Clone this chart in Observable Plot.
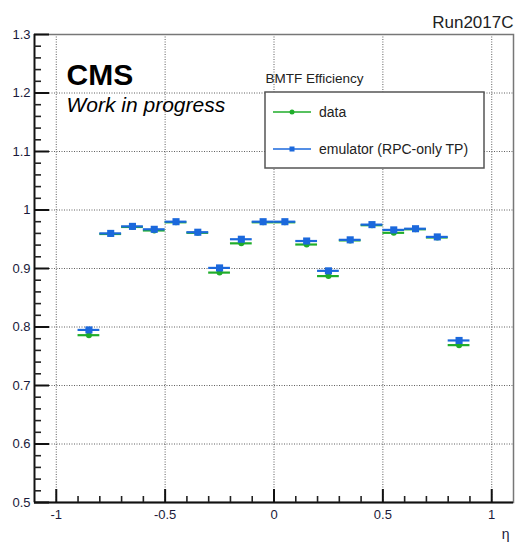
<!DOCTYPE html>
<html>
<head>
<meta charset="utf-8">
<script src="https://cdn.jsdelivr.net/npm/d3@7"></script>
<script src="https://cdn.jsdelivr.net/npm/@observablehq/plot@0.6"></script>
<style>
  html, body { margin: 0; padding: 0; background: #fff; }
  svg { display: block; }
</style>
</head>
<body>
<div id="chart"></div>
<script>
// ---- data ----
const eta = [-0.85, -0.75, -0.65, -0.55, -0.45, -0.35, -0.25, -0.15, -0.05,
              0.05,  0.15,  0.25,  0.35,  0.45,  0.55,  0.65,  0.75,  0.85];
const dataEff = [0.786, 0.959, 0.971, 0.965, 0.979, 0.961, 0.893, 0.943, 0.979,
                 0.979, 0.941, 0.887, 0.948, 0.974, 0.961, 0.967, 0.953, 0.769];
const emuEff  = [0.795, 0.960, 0.972, 0.967, 0.980, 0.962, 0.901, 0.950, 0.980,
                 0.980, 0.947, 0.896, 0.949, 0.975, 0.966, 0.968, 0.954, 0.777];
const etaHalfBin = 0.05;
const xMajor = [-1, -0.5, 0, 0.5, 1];
const xMinor = d3.range(-10, 11).map(i => i / 10).filter(v => !xMajor.includes(v));
const yMajor = [0.5, 0.6, 0.7, 0.8, 0.9, 1.0, 1.1, 1.2, 1.3];
const yMinor = d3.range(25, 66).map(i => i / 50).filter(v => !yMajor.some(m => Math.abs(m - v) < 1e-9));
const seriesNames = ["data", "emulator (RPC-only TP)"];
const seriesColors = ["#1fad2a", "#1b68dc"];

const rows = (vals) => eta.map((e, i) => ({eta: e, v: vals[i]}));
const dataRows = rows(dataEff);
const emuRows = rows(emuEff);

const fmt = d => String(+d.toFixed(1));
const font = "'Liberation Sans', Arial, Helvetica, sans-serif";

const W = 520, H = 543, mT = 34, mL = 34, mR = 7, mB = 41;
const fw = W - mL - mR, fh = H - mT - mB;

const plot = Plot.plot({
  width: W,
  height: H,
  marginTop: mT,
  marginLeft: mL,
  marginRight: mR,
  marginBottom: mB,
  style: {fontFamily: font, background: "#fff", color: "#111", overflow: "visible"},
  x: {domain: [-1.1, 1.1]},
  y: {domain: [0.5, 1.3]},
  marks: [
    Plot.gridX(xMajor, {stroke: "#444", strokeOpacity: 0.85, strokeDasharray: "1,1.5"}),
    Plot.gridY(yMajor, {stroke: "#444", strokeOpacity: 0.85, strokeDasharray: "1,1.5"}),
    Plot.frame({stroke: "#777", strokeWidth: 1.5}),
    Plot.ruleX([-1.1], {stroke: "#111", strokeWidth: 1.8}),
    Plot.ruleY([0.5], {stroke: "#111", strokeWidth: 1.8}),
    // inward ticks
    Plot.ruleY(yMajor, {y: d => d, insetRight: fw - 15, stroke: "#111", strokeWidth: 2}),
    Plot.ruleY(yMinor, {y: d => d, insetRight: fw - 7, stroke: "#222", strokeWidth: 1.6}),
    Plot.ruleX(xMajor, {x: d => d, insetTop: fh - 13, stroke: "#111", strokeWidth: 2}),
    Plot.ruleX(xMinor, {x: d => d, insetTop: fh - 6, stroke: "#222", strokeWidth: 1.6}),
    Plot.axisY(yMajor, {anchor: "left", tickSize: 0, tickPadding: 4, fontSize: 13, tickFormat: fmt, label: null, fill: "#1a1a3a"}),
    Plot.axisX(xMajor, {anchor: "bottom", tickSize: 0, tickPadding: 7, fontSize: 13, tickFormat: fmt, label: null, fill: "#1a1a3a"}),
    // data series
    Plot.ruleY(dataRows, {y: "v", x1: d => d.eta - etaHalfBin, x2: d => d.eta + etaHalfBin, stroke: seriesColors[0], strokeWidth: 2.2}),
    Plot.dot(dataRows, {x: "eta", y: "v", r: 3, fill: seriesColors[0], stroke: "none"}),
    Plot.ruleY(emuRows, {y: "v", x1: d => d.eta - etaHalfBin, x2: d => d.eta + etaHalfBin, stroke: seriesColors[1], strokeWidth: 2.2}),
    Plot.dot(emuRows, {x: "eta", y: "v", r: 4, symbol: "square", fill: seriesColors[1], stroke: "none"}),
    // texts
    Plot.text(["Run2017C"], {frameAnchor: "top-right", textAnchor: "end", lineAnchor: "bottom", dy: -7, dx: 0, fontSize: 17, fill: "#222"}),
    Plot.text(["CMS"], {frameAnchor: "top-left", textAnchor: "start", lineAnchor: "bottom", dx: 32, dy: 50, fontSize: 30, fontWeight: "bold", fill: "#000"}),
    Plot.text(["Work in progress"], {frameAnchor: "top-left", textAnchor: "start", lineAnchor: "bottom", dx: 32, dy: 77, fontSize: 21, fontStyle: "italic", fill: "#000"}),
    Plot.text(["BMTF Efficiency"], {frameAnchor: "top-left", textAnchor: "start", lineAnchor: "bottom", dx: 231, dy: 48, fontSize: 13.5, fill: "#222"}),
    Plot.text(["η"], {frameAnchor: "bottom-right", textAnchor: "end", lineAnchor: "middle", dx: -4, dy: 32, fontSize: 14, fill: "#1a1a3a"})
  ]
});

const svg = d3.select(plot);

// legend box
const lg = svg.append("g").attr("text-anchor", "start");
lg.append("rect").attr("x", 265).attr("y", 92).attr("width", 219).attr("height", 76)
  .attr("fill", "#fff").attr("stroke", "#555").attr("stroke-width", 1.5);
const entryY = [112, 149];
seriesNames.forEach((name, i) => {
  const y = entryY[i];
  lg.append("line").attr("x1", 273).attr("x2", 311).attr("y1", y).attr("y2", y)
    .attr("stroke", seriesColors[i]).attr("stroke-width", 1.5);
  if (i === 0) {
    lg.append("circle").attr("cx", 292).attr("cy", y).attr("r", 2.5).attr("fill", seriesColors[i]);
  } else {
    lg.append("rect").attr("x", 289.5).attr("y", y - 2.5).attr("width", 5).attr("height", 5).attr("fill", seriesColors[i]);
  }
  lg.append("text").attr("x", 319).attr("y", y).attr("dy", "0.35em").attr("text-anchor", "start")
    .attr("font-size", 14).attr("font-family", font).attr("fill", "#222").text(name);
});

document.getElementById("chart").appendChild(plot);
</script>
</body>
</html>
